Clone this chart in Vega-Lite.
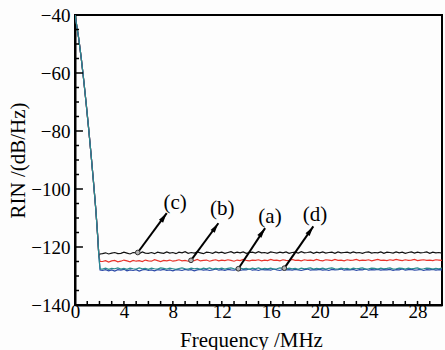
{
  "$schema": "https://vega.github.io/schema/vega-lite/v6.json",
  "width": 367,
  "height": 290,
  "autosize": {"type": "none"},
  "padding": {"left": 75, "top": 15, "right": 3, "bottom": 45},
  "background": "#fdfdfd",
  "config": {
    "view": {"stroke": "#000", "strokeWidth": 2},
    "font": "Liberation Serif",
    "axis": {
      "grid": false,
      "domainColor": "#000",
      "domainWidth": 2,
      "tickColor": "#000",
      "tickOpacity": 0,
      "labelColor": "#000",
      "labelFont": "Liberation Serif",
      "labelFontSize": 19,
      "labelOverlap": false,
      "labelFlush": false,
      "titleFont": "Liberation Serif",
      "titleFontSize": 21,
      "titleFontWeight": "normal",
      "titleColor": "#000"
    }
  },
  "resolve": {"axis": {"x": "independent", "y": "independent"}},
  "datasets": {
    "spectra": [
      {"f": 0, "a": -40, "b": -40, "c": -40, "d": -40},
      {"f": 0.1, "a": -42.5, "b": -42.5, "c": -42.5, "d": -42.5},
      {"f": 0.3, "a": -48, "b": -48, "c": -48, "d": -48},
      {"f": 0.5, "a": -54.5, "b": -54.5, "c": -54.5, "d": -54.5},
      {"f": 0.7, "a": -62, "b": -62, "c": -62, "d": -62},
      {"f": 0.9, "a": -70, "b": -70, "c": -70, "d": -70},
      {"f": 1.1, "a": -78.5, "b": -78.5, "c": -78.5, "d": -78.5},
      {"f": 1.3, "a": -87.5, "b": -87.5, "c": -87.5, "d": -87.5},
      {"f": 1.5, "a": -97, "b": -97, "c": -97, "d": -97},
      {"f": 1.7, "a": -107, "b": -107, "c": -107, "d": -107},
      {"f": 1.85, "a": -116, "b": -116, "c": -116, "d": -116},
      {"f": 1.95, "a": -123, "b": -123, "c": -123, "d": -123},
      {"f": 2.05, "a": -127.9, "b": -125.0, "c": -122.4, "d": -127.5},
      {"f": 2.25, "a": -128.1, "b": -125.0, "c": -122.3, "d": -127.6},
      {"f": 2.5, "a": -127.8, "b": -124.7, "c": -122.0, "d": -127.3},
      {"f": 2.75, "a": -128.2, "b": -125.2, "c": -122.4, "d": -127.7},
      {"f": 3, "a": -127.9, "b": -124.8, "c": -122.1, "d": -127.4},
      {"f": 3.25, "a": -128.3, "b": -124.6, "c": -121.9, "d": -127.5},
      {"f": 3.5, "a": -127.8, "b": -125.1, "c": -122.3, "d": -127.2},
      {"f": 3.75, "a": -128.0, "b": -124.9, "c": -122.2, "d": -127.6},
      {"f": 4, "a": -127.7, "b": -124.5, "c": -121.8, "d": -127.4},
      {"f": 4.25, "a": -128.2, "b": -124.8, "c": -122.1, "d": -127.7},
      {"f": 4.5, "a": -127.9, "b": -125.1, "c": -122.4, "d": -127.3},
      {"f": 4.75, "a": -128.1, "b": -124.6, "c": -121.9, "d": -127.5},
      {"f": 5, "a": -127.8, "b": -124.9, "c": -122.0, "d": -127.6},
      {"f": 5.25, "a": -128.3, "b": -124.7, "c": -122.3, "d": -127.2},
      {"f": 5.5, "a": -127.9, "b": -125.0, "c": -121.7, "d": -127.5},
      {"f": 5.75, "a": -127.7, "b": -124.5, "c": -122.1, "d": -127.4},
      {"f": 6, "a": -128.1, "b": -124.8, "c": -122.2, "d": -127.7},
      {"f": 6.25, "a": -127.9, "b": -124.9, "c": -121.9, "d": -127.3},
      {"f": 6.5, "a": -128.2, "b": -124.4, "c": -122.3, "d": -127.5},
      {"f": 6.75, "a": -127.8, "b": -124.7, "c": -121.8, "d": -127.6},
      {"f": 7, "a": -128.0, "b": -125.0, "c": -122.0, "d": -127.2},
      {"f": 7.25, "a": -127.7, "b": -124.6, "c": -122.2, "d": -127.4},
      {"f": 7.5, "a": -128.1, "b": -124.8, "c": -121.7, "d": -127.6},
      {"f": 7.75, "a": -127.9, "b": -124.5, "c": -122.1, "d": -127.3},
      {"f": 8, "a": -128.2, "b": -124.9, "c": -121.9, "d": -127.5},
      {"f": 8.25, "a": -127.8, "b": -124.7, "c": -122.3, "d": -127.7},
      {"f": 8.5, "a": -127.9, "b": -124.4, "c": -121.8, "d": -127.4},
      {"f": 8.75, "a": -128.1, "b": -124.8, "c": -122.0, "d": -127.2},
      {"f": 9, "a": -127.7, "b": -124.6, "c": -121.6, "d": -127.5},
      {"f": 9.25, "a": -128.0, "b": -124.9, "c": -122.2, "d": -127.6},
      {"f": 9.5, "a": -127.8, "b": -124.5, "c": -121.9, "d": -127.3},
      {"f": 9.75, "a": -128.2, "b": -124.7, "c": -122.1, "d": -127.5},
      {"f": 10, "a": -127.9, "b": -124.3, "c": -121.7, "d": -127.4},
      {"f": 10.25, "a": -127.7, "b": -124.8, "c": -122.0, "d": -127.7},
      {"f": 10.5, "a": -128.0, "b": -124.6, "c": -122.3, "d": -127.3},
      {"f": 10.75, "a": -127.8, "b": -124.5, "c": -121.8, "d": -127.5},
      {"f": 11, "a": -128.1, "b": -124.9, "c": -121.9, "d": -127.2},
      {"f": 11.25, "a": -127.9, "b": -124.6, "c": -122.2, "d": -127.6},
      {"f": 11.5, "a": -127.6, "b": -124.4, "c": -121.7, "d": -127.4},
      {"f": 11.75, "a": -128.0, "b": -124.8, "c": -122.0, "d": -127.5},
      {"f": 12, "a": -127.8, "b": -124.5, "c": -121.8, "d": -127.3},
      {"f": 12.25, "a": -128.1, "b": -124.7, "c": -122.2, "d": -127.6},
      {"f": 12.5, "a": -127.7, "b": -124.4, "c": -121.9, "d": -127.4},
      {"f": 12.75, "a": -127.9, "b": -124.6, "c": -121.6, "d": -127.2},
      {"f": 13, "a": -128.0, "b": -124.9, "c": -122.1, "d": -127.5},
      {"f": 13.25, "a": -127.7, "b": -124.5, "c": -121.8, "d": -127.6},
      {"f": 13.5, "a": -128.1, "b": -124.7, "c": -122.0, "d": -127.3},
      {"f": 13.75, "a": -127.8, "b": -124.3, "c": -121.7, "d": -127.5},
      {"f": 14, "a": -127.9, "b": -124.6, "c": -122.2, "d": -127.4},
      {"f": 14.25, "a": -127.6, "b": -124.8, "c": -121.9, "d": -127.7},
      {"f": 14.5, "a": -128.0, "b": -124.5, "c": -121.8, "d": -127.3},
      {"f": 14.75, "a": -127.8, "b": -124.6, "c": -122.1, "d": -127.5},
      {"f": 15, "a": -128.1, "b": -124.4, "c": -121.6, "d": -127.2},
      {"f": 15.25, "a": -127.7, "b": -124.8, "c": -122.0, "d": -127.6},
      {"f": 15.5, "a": -127.9, "b": -124.5, "c": -121.9, "d": -127.4},
      {"f": 15.75, "a": -127.8, "b": -124.7, "c": -122.2, "d": -127.5},
      {"f": 16, "a": -128.0, "b": -124.3, "c": -121.7, "d": -127.3},
      {"f": 16.25, "a": -127.6, "b": -124.6, "c": -121.9, "d": -127.6},
      {"f": 16.5, "a": -127.9, "b": -124.5, "c": -122.1, "d": -127.5},
      {"f": 16.75, "a": -128.1, "b": -124.8, "c": -121.8, "d": -127.2},
      {"f": 17, "a": -127.7, "b": -124.4, "c": -122.0, "d": -127.4},
      {"f": 17.25, "a": -127.9, "b": -124.6, "c": -121.7, "d": -127.6},
      {"f": 17.5, "a": -127.8, "b": -124.7, "c": -122.2, "d": -127.3},
      {"f": 17.75, "a": -128.0, "b": -124.3, "c": -121.9, "d": -127.5},
      {"f": 18, "a": -127.7, "b": -124.6, "c": -121.8, "d": -127.4},
      {"f": 18.25, "a": -127.9, "b": -124.5, "c": -122.1, "d": -127.7},
      {"f": 18.5, "a": -128.1, "b": -124.8, "c": -121.6, "d": -127.3},
      {"f": 18.75, "a": -127.8, "b": -124.4, "c": -122.0, "d": -127.5},
      {"f": 19, "a": -127.6, "b": -124.6, "c": -121.9, "d": -127.4},
      {"f": 19.25, "a": -128.0, "b": -124.5, "c": -121.7, "d": -127.2},
      {"f": 19.5, "a": -127.8, "b": -124.7, "c": -122.2, "d": -127.6},
      {"f": 19.75, "a": -127.9, "b": -124.3, "c": -121.8, "d": -127.4},
      {"f": 20, "a": -127.7, "b": -124.6, "c": -122.0, "d": -127.5},
      {"f": 20.25, "a": -128.0, "b": -124.8, "c": -121.7, "d": -127.3},
      {"f": 20.5, "a": -127.8, "b": -124.4, "c": -122.1, "d": -127.6},
      {"f": 20.75, "a": -128.1, "b": -124.5, "c": -121.9, "d": -127.4},
      {"f": 21, "a": -127.7, "b": -124.7, "c": -121.8, "d": -127.2},
      {"f": 21.25, "a": -127.9, "b": -124.3, "c": -122.2, "d": -127.5},
      {"f": 21.5, "a": -127.8, "b": -124.6, "c": -121.7, "d": -127.6},
      {"f": 21.75, "a": -127.6, "b": -124.5, "c": -122.0, "d": -127.3},
      {"f": 22, "a": -128.0, "b": -124.8, "c": -121.9, "d": -127.5},
      {"f": 22.25, "a": -127.8, "b": -124.4, "c": -121.8, "d": -127.4},
      {"f": 22.5, "a": -127.9, "b": -124.6, "c": -122.1, "d": -127.7},
      {"f": 22.75, "a": -127.7, "b": -124.5, "c": -121.7, "d": -127.3},
      {"f": 23, "a": -128.1, "b": -124.3, "c": -122.0, "d": -127.5},
      {"f": 23.25, "a": -127.8, "b": -124.7, "c": -121.9, "d": -127.4},
      {"f": 23.5, "a": -127.9, "b": -124.5, "c": -122.2, "d": -127.2},
      {"f": 23.75, "a": -127.6, "b": -124.6, "c": -121.8, "d": -127.6},
      {"f": 24, "a": -128.0, "b": -124.4, "c": -121.7, "d": -127.5},
      {"f": 24.25, "a": -127.8, "b": -124.8, "c": -122.1, "d": -127.3},
      {"f": 24.5, "a": -127.9, "b": -124.5, "c": -121.9, "d": -127.4},
      {"f": 24.75, "a": -127.7, "b": -124.3, "c": -122.0, "d": -127.6},
      {"f": 25, "a": -128.0, "b": -124.6, "c": -121.7, "d": -127.3},
      {"f": 25.25, "a": -127.8, "b": -124.5, "c": -122.2, "d": -127.5},
      {"f": 25.5, "a": -127.9, "b": -124.7, "c": -121.8, "d": -127.4},
      {"f": 25.75, "a": -127.7, "b": -124.4, "c": -121.9, "d": -127.2},
      {"f": 26, "a": -128.1, "b": -124.6, "c": -122.1, "d": -127.6},
      {"f": 26.25, "a": -127.8, "b": -124.3, "c": -121.7, "d": -127.5},
      {"f": 26.5, "a": -127.9, "b": -124.5, "c": -122.0, "d": -127.3},
      {"f": 26.75, "a": -127.6, "b": -124.7, "c": -121.8, "d": -127.4},
      {"f": 27, "a": -128.0, "b": -124.4, "c": -122.2, "d": -127.6},
      {"f": 27.25, "a": -127.8, "b": -124.6, "c": -121.9, "d": -127.3},
      {"f": 27.5, "a": -127.7, "b": -124.5, "c": -121.7, "d": -127.5},
      {"f": 27.75, "a": -128.0, "b": -124.3, "c": -122.1, "d": -127.4},
      {"f": 28, "a": -127.9, "b": -124.7, "c": -121.8, "d": -127.2},
      {"f": 28.25, "a": -127.7, "b": -124.5, "c": -122.0, "d": -127.6},
      {"f": 28.5, "a": -128.1, "b": -124.4, "c": -121.9, "d": -127.5},
      {"f": 28.75, "a": -127.8, "b": -124.6, "c": -121.7, "d": -127.3},
      {"f": 29, "a": -127.9, "b": -124.5, "c": -122.2, "d": -127.4},
      {"f": 29.25, "a": -127.7, "b": -124.7, "c": -121.8, "d": -127.6},
      {"f": 29.5, "a": -128.0, "b": -124.4, "c": -122.0, "d": -127.4},
      {"f": 29.75, "a": -127.8, "b": -124.5, "c": -121.9, "d": -127.5},
      {"f": 30, "a": -127.9, "b": -124.6, "c": -122.1, "d": -127.3}
    ],
    "notes": [
      {"lab": "(c)", "f0": 5.13, "v0": -121.9, "f1": 7.5, "v1": -108.3, "lf": 8.18, "lv": -104.8},
      {"lab": "(b)", "f0": 9.48, "v0": -124.6, "f1": 11.72, "v1": -111.8, "lf": 12.04, "lv": -106.9},
      {"lab": "(a)", "f0": 13.35, "v0": -127.5, "f1": 15.54, "v1": -113.5, "lf": 15.94, "lv": -109.7},
      {"lab": "(d)", "f0": 17.11, "v0": -127.3, "f1": 19.48, "v1": -112.9, "lf": 19.62, "lv": -108.9}
    ],
    "xticks": [
      {"f": 1}, {"f": 2}, {"f": 3}, {"f": 4}, {"f": 5}, {"f": 6}, {"f": 7}, {"f": 8}, {"f": 9}, {"f": 10},
      {"f": 11}, {"f": 12}, {"f": 13}, {"f": 14}, {"f": 15}, {"f": 16}, {"f": 17}, {"f": 18}, {"f": 19}, {"f": 20},
      {"f": 21}, {"f": 22}, {"f": 23}, {"f": 24}, {"f": 25}, {"f": 26}, {"f": 27}, {"f": 28}, {"f": 29}
    ],
    "yminor": [
      {"v": -135}, {"v": -130}, {"v": -125}, {"v": -115}, {"v": -110}, {"v": -105}, {"v": -95}, {"v": -90},
      {"v": -85}, {"v": -75}, {"v": -70}, {"v": -65}, {"v": -55}, {"v": -50}, {"v": -45}
    ],
    "ymajor": [
      {"v": -120}, {"v": -100}, {"v": -80}, {"v": -60}
    ]
  },
  "layer": [
    {
      "data": {"name": "spectra"},
      "transform": [{"fold": ["c", "b", "a", "d"], "as": ["series", "rin"]}],
      "mark": {"type": "line", "strokeWidth": 1.2, "clip": true},
      "encoding": {
        "x": {
          "field": "f",
          "type": "quantitative",
          "scale": {"domain": [0, 30], "nice": false, "zero": false},
          "axis": {
            "orient": "bottom",
            "title": "Frequency /MHz",
            "values": [0, 4, 8, 12, 16, 20, 24, 28],
            "tickSize": -7,
            "labelPadding": 4.5,
            "titleX": 176,
            "titleY": 35,
            "titleAlign": "center",
            "titleBaseline": "middle"
          }
        },
        "y": {
          "field": "rin",
          "type": "quantitative",
          "scale": {"domain": [-140, -40], "nice": false, "zero": false},
          "axis": {
            "orient": "left",
            "title": "RIN /(dB/Hz)",
            "values": [-140, -120, -100, -80, -60, -40],
            "tickSize": -8,
            "labelPadding": 13,
            "titleX": -57,
            "titleY": 145,
            "titleAngle": -90,
            "titleAlign": "center",
            "titleBaseline": "middle"
          }
        },
        "color": {
          "field": "series",
          "type": "nominal",
          "scale": {"domain": ["c", "b", "a", "d"], "range": ["#111111", "#e8342c", "#2c4aa8", "#2a8b8e"]},
          "legend": null
        }
      }
    },
    {
      "data": {"name": "xticks"},
      "mark": {"type": "rule", "strokeWidth": 1.5, "color": "#000"},
      "encoding": {
        "x": {"field": "f", "type": "quantitative", "axis": null},
        "y": {"datum": -140, "type": "quantitative", "axis": null},
        "y2": {"datum": -138.6}
      }
    },
    {
      "data": {"name": "yminor"},
      "mark": {"type": "rule", "strokeWidth": 1.5, "color": "#000"},
      "encoding": {
        "y": {"field": "v", "type": "quantitative", "axis": null},
        "x": {"datum": 0, "type": "quantitative", "axis": null},
        "x2": {"datum": 0.33}
      }
    },
    {
      "data": {"name": "ymajor"},
      "mark": {"type": "rule", "strokeWidth": 1.5, "color": "#000"},
      "encoding": {
        "y": {"field": "v", "type": "quantitative", "axis": null},
        "x": {"datum": 0, "type": "quantitative", "axis": null},
        "x2": {"datum": 0.65}
      }
    },
    {
      "data": {"name": "notes"},
      "mark": {"type": "rule", "strokeWidth": 2, "color": "#000"},
      "encoding": {
        "x": {"field": "f0", "type": "quantitative", "axis": null},
        "y": {"field": "v0", "type": "quantitative", "axis": null},
        "x2": {"field": "f1"},
        "y2": {"field": "v1"}
      }
    },
    {
      "data": {"name": "notes"},
      "mark": {"type": "point", "shape": "M0,0L0.4,1.6L-0.4,1.6Z", "filled": true, "color": "#000", "size": 156, "angle": 35, "opacity": 1},
      "encoding": {
        "x": {"field": "f1", "type": "quantitative", "axis": null},
        "y": {"field": "v1", "type": "quantitative", "axis": null}
      }
    },
    {
      "data": {"name": "notes"},
      "mark": {"type": "point", "shape": "circle", "filled": true, "fill": "#b5b5b5", "stroke": "#333", "strokeWidth": 1, "size": 22, "opacity": 1},
      "encoding": {
        "x": {"field": "f0", "type": "quantitative", "axis": null},
        "y": {"field": "v0", "type": "quantitative", "axis": null}
      }
    },
    {
      "data": {"name": "notes"},
      "mark": {"type": "text", "font": "Liberation Serif", "fontSize": 21, "align": "center", "baseline": "middle", "color": "#000"},
      "encoding": {
        "x": {"field": "lf", "type": "quantitative", "axis": null},
        "y": {"field": "lv", "type": "quantitative", "axis": null},
        "text": {"field": "lab"}
      }
    }
  ]
}
